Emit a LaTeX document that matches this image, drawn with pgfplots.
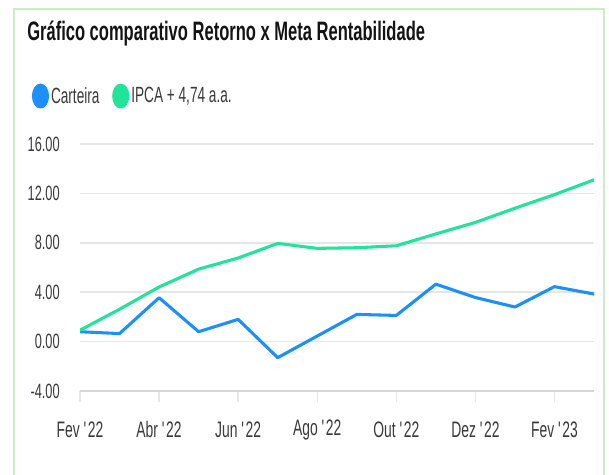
\documentclass[border=0pt]{standalone}
\usepackage{pgfplots}
\pgfplotsset{compat=1.18}
\usepackage{fontspec}
\setmainfont{Liberation Sans}[FakeStretch=0.62]
\definecolor{cblue}{HTML}{1C8FFA}
\definecolor{cgreen}{HTML}{22E39A}
\definecolor{gridc}{HTML}{E6E6E6}
\definecolor{lbl}{HTML}{3A3A3A}
\definecolor{card}{HTML}{CDEBCB}
\begin{document}
\begin{tikzpicture}
\path[use as bounding box] (0pt,0pt) rectangle (456.75pt,355.5pt);
\fill[white] (0pt,0pt) rectangle (456.75pt,355.5pt);
\draw[card, line width=1.5pt] (10.125pt,-2pt) -- (10.125pt,348.375pt) -- (453pt,348.375pt) -- (453pt,-2pt);
\node[anchor=base west, font=\bfseries\fontsize{20pt}{24pt}\selectfont, text=black!92, inner sep=0pt] at (20.25pt,324.75pt) {Gráfico comparativo Retorno x Meta Rentabilidade};
\begin{axis}[
  at={(60pt,62.25pt)}, anchor=south west,
  scale only axis, width=385.5pt, height=185.25pt,
  xmin=0, xmax=13, ymin=-4, ymax=16,
  axis x line*=bottom, axis y line*=left,
  x axis line style={draw=gridc!93!black, line width=1.6pt, -},
  y axis line style={draw=none},
  ytick={-4,0,4,8,12,16},
  yticklabels={-4.00,0.00,4.00,8.00,12.00,16.00},
  ymajorgrids, grid style={gridc, line width=1.1pt},
  y tick style={draw=none},
  yticklabel style={font=\fontsize{15.5pt}{17pt}\selectfont, text=lbl, anchor=east, inner sep=0pt, xshift=-7pt},
  xtick={0,2,4,6,8,10,12},
  xticklabels={Fev \textquotesingle22, Abr \textquotesingle22, Jun \textquotesingle22, Ago \textquotesingle22, Out \textquotesingle22, Dez \textquotesingle22, Fev \textquotesingle23},
  x tick style={draw=gridc, line width=1pt},
  tick align=outside, major tick length=8pt,
  xticklabel style={font=\fontsize{16.8pt}{18pt}\selectfont, text=lbl, anchor=center, yshift=-21pt},
  legend style={at={(axis description cs:-0.094,1.194)}, anchor=west, draw=none, fill=none,
    font=\fontsize{16.5pt}{18pt}\selectfont, text=lbl, inner sep=0pt,
    nodes={inner sep=1.5pt},
    /tikz/every even column/.append style={column sep=8pt}},
  legend columns=-1,
  legend image code/.code={\fill (5.25pt,0pt) ellipse [x radius=5.25pt, y radius=8.2pt];},
  every axis plot/.append style={line width=2.3pt, line join=round, line cap=round},
]
\addplot[cblue] coordinates {
(0,0.80) (1,0.65) (2,3.55) (3,0.80) (4,1.80) (5,-1.30) (6,0.45) (7,2.20)
(8,2.12) (9,4.65) (10,3.57) (11,2.80) (12,4.45) (13,3.85)};
\addlegendentry{Carteira}
\addplot[cgreen] coordinates {
(0,0.92) (1,2.62) (2,4.42) (3,5.87) (4,6.77) (5,7.95) (6,7.55) (7,7.60)
(8,7.76) (9,8.72) (10,9.65) (11,10.80) (12,11.90) (13,13.10)};
\addlegendentry{IPCA + 4,74 a.a.}
\end{axis}
\end{tikzpicture}
\end{document}
